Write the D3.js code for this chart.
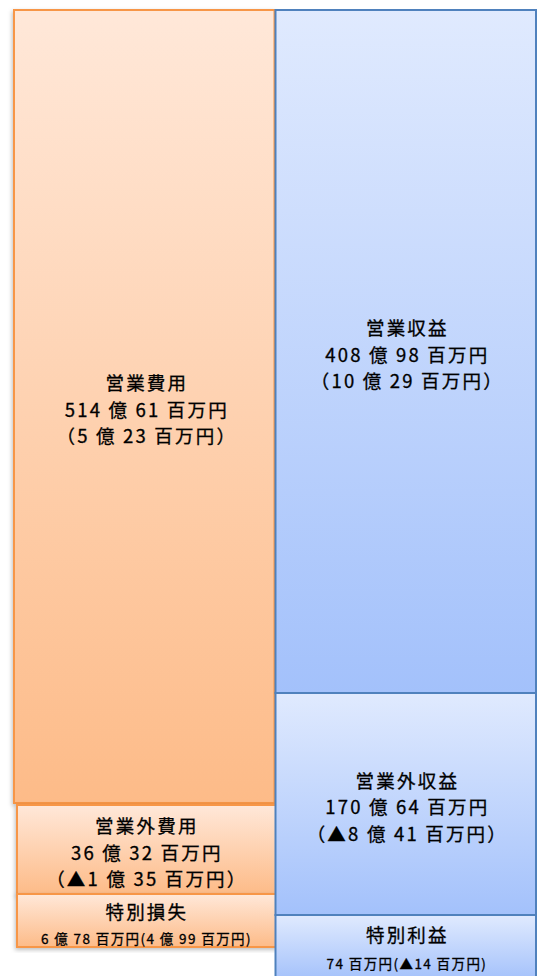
<!DOCTYPE html>
<html><head><meta charset="utf-8">
<script src="https://cdn.jsdelivr.net/npm/d3@7"></script>
<style>html,body{margin:0;padding:0;background:#fff;overflow:hidden}svg{display:block}</style>
</head><body>
<svg id="c" width="537" height="976"></svg>
<script>
// 単位: 億円
const columns = ["費用", "収益"];
const expenseNames = ["営業費用", "営業外費用", "特別損失"];
const expenseValues = [514.61, 36.32, 6.78];
const expenseChanges = [5.23, -1.35, 4.99];
const revenueNames = ["営業収益", "営業外収益", "特別利益"];
const revenueValues = [408.98, 170.64, 0.74];
const revenueChanges = [10.29, -8.41, -0.14];

const W = 537, H = 976;
const svg = d3.select("#c");
const defs = svg.append("defs");
const FONT = "'Noto Sans CJK JP','Noto Sans',sans-serif";

const themes = {
  "費用": {stroke: "#f79646", top: "#ffe8d9", bottom: "#fdbb88", id: "gO"},
  "収益": {stroke: "#4f81bd", top: "#e0eafe", bottom: "#a3c1fb", id: "gB"}
};
Object.values(themes).forEach(t => {
  const g = defs.append("linearGradient").attr("id", t.id).attr("x1", 0).attr("y1", 0).attr("x2", 0).attr("y2", 1);
  g.append("stop").attr("offset", "0%").attr("stop-color", t.top);
  g.append("stop").attr("offset", "100%").attr("stop-color", t.bottom);
});
const f = defs.append("filter").attr("id", "sh").attr("x", "-10%").attr("y", "-10%").attr("width", "120%").attr("height", "120%");
f.append("feDropShadow").attr("dx", -1).attr("dy", 2).attr("stdDeviation", 2).attr("flood-color", "#000").attr("flood-opacity", 0.25);

const x = d3.scaleBand().domain(columns).range([14, W]).padding(0);
// block height scale for the secondary items; main item fills remainder
const y = d3.scaleLinear().domain([0, 170.64]).range([0, 222]);
const colTop = 10;
const colBottom = {"費用": 947, "収益": 981};
const minH = {"費用": {3: 89, 2: 53}, "収益": {3: 89, 2: 66}};

function fmt(v) {
  const neg = v < 0;
  const a = Math.round(Math.abs(v) * 100);
  const oku = Math.floor(a / 100), hyaku = a % 100;
  let s = oku > 0 ? `${oku} 億 ${hyaku} 百万円` : `${hyaku} 百万円`;
  return (neg ? "▲" : "") + s;
}

function layout(col, names, values, changes) {
  const items = names.map((n, i) => {
    const compact = y(values[i]) < 40;
    return {col, name: n, value: values[i], change: changes[i], compact, idx: i};
  });
  items.forEach((d, i) => {
    if (i > 0) d.h = Math.max(y(d.value), d.compact ? minH[col][2] : minH[col][3]);
  });
  const rest = items.slice(1).reduce((s, d) => s + d.h, 0);
  const gap = col === "費用" ? 2 : 0;
  items[0].h = colBottom[col] - colTop - rest - gap;
  let cy = colTop;
  items.forEach((d, i) => {
    d.y = cy;
    cy += d.h + (i === 0 ? gap : 0);
  });
  return items;
}

const all = [
  ...layout("費用", expenseNames, expenseValues, expenseChanges),
  ...layout("収益", revenueNames, revenueValues, revenueChanges)
];

const g = svg.selectAll("g.blk").data(all).join("g").attr("class", "blk");
g.append("rect")
  .attr("x", d => x(d.col) + (d.col === "費用" && d.idx > 0 ? 3 : 0))
  .attr("y", d => d.y)
  .attr("width", d => x.bandwidth() - 1)
  .attr("height", d => d.h)
  .attr("fill", d => `url(#${themes[d.col].id})`)
  .attr("stroke", d => themes[d.col].stroke)
  .attr("stroke-width", 2)
  .attr("filter", d => d.col === "費用" ? "url(#sh)" : null);

function label(sel, cx, cy, size, ls, t) {
  sel.append("text").attr("x", cx + ls / 2).attr("y", cy)
    .attr("text-anchor", "middle").attr("dominant-baseline", "central")
    .attr("font-family", FONT).attr("font-size", size).attr("font-weight", 400)
    .attr("letter-spacing", ls).attr("fill", "#000")
    .attr("stroke", "#000").attr("stroke-width", 0.3).text(t);
}

g.each(function(d) {
  const cx = x(d.col) + x.bandwidth() / 2 + (d.col === "費用" ? 1 : 0);
  const sel = d3.select(this);
  if (!d.compact) {
    const lines = [d.name, fmt(d.value), `（${fmt(d.change)}）`];
    const mid = d.y + d.h / 2 + 2;
    lines.forEach((t, i) => label(sel, cx, mid + (i - 1) * 26.5, 18.5, 2.2, t));
  } else {
    const off = d.col === "収益" ? 2 : 0;
    label(sel, cx, d.y + 17 + off, 18.5, 2.2, d.name);
    label(sel, cx, d.y + 44 + off * 2, 13.5, 1.4, `${fmt(d.value)}(${fmt(d.change)})`);
  }
});
</script>
</body></html>
